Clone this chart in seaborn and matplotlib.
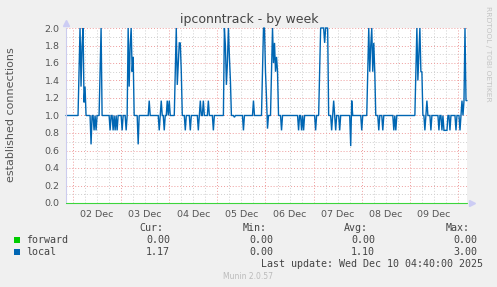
import numpy as np
import pandas as pd
import matplotlib
matplotlib.use("Agg")
import matplotlib.pyplot as plt
import matplotlib.dates as mdates
from matplotlib.ticker import MultipleLocator, FuncFormatter, NullFormatter
from matplotlib.patches import Rectangle
import seaborn as sns

# ---------------- data ----------------
end_time = "2025-12-10 04:30"
sample_step = "30min"
local_values = [
    1, 1, 1, 1, 1, 1, 1, 1, 1, 1, 1, 1, 1, 1.5, 2, 1.33, 1.8, 2, 1.15, 1.33,
    1, 1, 1, 1, 1, .67, 1, 1, .83, 1, .83, 1, 1, 1, 1.5, 2, 1, 1, 1, 1,
    1, 1, 1, 1, .83, 1, 1, .83, 1, .83, 1, .83, 1, 1, 1, 1, .83, 1, 1, 1,
    .83, 1, 2, 1.33, 1.8, 2, 1.5, 1.67, 1, 1, 1, 1, .67, 1, 1, 1, 1, 1, 1, 1,
    1, 1, 1, 1.17, 1, 1, 1, 1, 1, 1, 1, 1, 1, .83, 1, 1.17, 1, 1, .83, 1,
    1, 1.17, 1, 1.17, 1, 1, 1, 1, 1, 1.5, 2, 1.35, 1.6, 1.83, 1.83, 1.5, 1, 1, 1, .83,
    1, 1, 1, 1, .83, 1, 1, 1, 1, 1, 1, 1, .83, 1, 1.17, 1, 1, 1.17, 1, 1,
    1, 1, 1.17, 1, 1, 1, 1, .83, 1, 1, 1, 1, 1, 1, 1, 1, 1, 1, 2, 1.8,
    1.35, 1.6, 2, 1.67, 1.4, 1, 1, 1, .98, 1, 1, 1, 1, 1, 1, 1, 1, .83, 1, 1,
    1, 1, 1, 1, 1, 1, 1, 1.17, 1, 1, 1, 1, 1, 1, 1, 1, 1.5, 2, 2, 1.5,
    1.2, .85, 1, 1, 1, 1.5, 2, 1.6, 1.83, 1.5, 1.67, 1.5, 1, 1, 1, .83, 1, 1, 1, 1,
    1, 1, 1, 1, 1, 1, 1, 1, 1, 1, 1, 1, .83, 1, 1, .83, 1, .83, 1, 1,
    1, 1, 1, 1, 1, 1, 1, 1, 1, .83, 1, 1, 1, 1.5, 2, 2, 2, 2, 1.83, 2,
    2, 2, 1, 1, 1, .83, 1, 1.17, 1, .83, 1, 1, 1, .83, 1, 1, 1, 1, 1, 1,
    1, 1, 1, 1, .65, 1.17, 1, 1, 1, 1, 1, 1, 1, 1, 1, .83, 1, 1, 1, 1,
    1, 1.5, 2, 1.5, 1.8, 2, 1.5, 1.83, 1.5, 1, 1, 1, .83, 1, 1, 1, .83, 1, 1, 1,
    1, 1, 1, 1, 1, 1, 1, .83, 1, .83, 1, 1, 1, 1, 1, 1, 1, 1, 1, 1,
    1, 1, 1, 1, 1, 1, 1, 1, 1, 1.5, 2, 1.4, 1.7, 2, 1.5, 1.5, 1, 1, .83, 1,
    1.17, 1, 1, 1, .83, 1, 1, 1, 1, 1, 1, 1, .83, 1, 1, .83, 1, .83, .83, .83,
    .83, 1, 1, .83, 1, 1, 1, 1, 1, .83, 1, 1, 1, .83, 1, 1.17, 1, 1.17, 2, 1.17, 1.17,
]
forward_values = [0.0] * len(local_values)

series_names = ["forward", "local"]
series_colors = ["#00CC00", "#0066B3"]
cur_labels = ["0.00", "1.17"]
min_labels = ["0.00", "0.00"]
avg_labels = ["0.00", "1.10"]
max_labels = ["0.00", "3.00"]

title = "ipconntrack - by week"
y_label = "established connections"
last_update = "Last update: Wed Dec 10 04:40:00 2025"
y_min, y_max = 0.0, 2.0

# ---------------- build frame ----------------
times = pd.date_range(end=end_time, periods=len(local_values), freq=sample_step)
df = pd.concat([
    pd.DataFrame({"time": times, "value": forward_values, "series": "forward"}),
    pd.DataFrame({"time": times, "value": local_values, "series": "local"}),
], ignore_index=True)

# ---------------- figure ----------------
sns.set_style("white")
plt.rcParams["font.family"] = ["DejaVu Sans"]

W, H = 497, 287
fig = plt.figure(figsize=(W / 100, H / 100), dpi=100, facecolor="#F0F0F0")
L, R, T, B = 66, 467, 28, 203
ax = fig.add_axes([L / W, 1 - B / H, (R - L) / W, (B - T) / H])
ax.set_facecolor("white")

sns.lineplot(data=df, x="time", y="value", hue="series", hue_order=series_names,
             palette=dict(zip(series_names, series_colors)), linewidth=1.0,
             estimator=None, legend=False, ax=ax)
for ln in ax.lines:
    ln.set_clip_on(False)
    ln.set_solid_joinstyle("miter")
ax.lines[0].set_linewidth(0.8)
ax.lines[0].set_alpha(0.75)
ax.lines[0].set_zorder(3)

ax.set_xlim(times[0], times[-1])
ax.set_ylim(y_min, y_max)

# x axis: red day lines, grey 6-hour lines, labels at noon
ax.xaxis.set_major_locator(mdates.DayLocator())
ax.xaxis.set_major_formatter(NullFormatter())
ax.xaxis.set_minor_locator(mdates.HourLocator(byhour=[6, 12, 18]))
ax.xaxis.set_minor_formatter(FuncFormatter(
    lambda v, p: mdates.num2date(v).strftime("%d %b") if mdates.num2date(v).hour == 12 else ""))

ax.yaxis.set_major_locator(MultipleLocator(0.2))
ax.yaxis.set_minor_locator(MultipleLocator(0.1))
ax.yaxis.set_major_formatter(FuncFormatter(lambda v, p: f"{v:.1f}"))

ax.grid(which="major", color="#EE9C9C", linestyle=(0, (1, 2)), linewidth=0.7)
ax.grid(which="minor", color="#CFCFCF", linestyle=(0, (1, 2)), linewidth=0.7)
ax.set_axisbelow(True)

ax.tick_params(axis="x", which="major", length=2, width=0.7, color="#EE8888", pad=1)
ax.tick_params(axis="x", which="minor", length=2, width=0.7, color="#CCCCCC",
               labelsize=6.8, labelcolor="#555555", pad=3.2)
ax.tick_params(axis="y", which="major", length=2, width=0.7, color="#EE8888",
               labelsize=6.8, labelcolor="#555555", pad=2.5)
ax.tick_params(axis="y", which="minor", length=0)

ax.set_xlabel("")
ax.set_ylabel("")
for s in ["top", "right", "bottom"]:
    ax.spines[s].set_visible(False)
ax.spines["left"].set_color("#CCCCEE")
ax.spines["left"].set_linewidth(0.8)

# axis arrows
ax.plot([0], [1.03], marker="^", markersize=4, color="#CCCCF4", transform=ax.transAxes, clip_on=False)
ax.plot([1.012], [0], marker=">", markersize=4, color="#CCCCF4", transform=ax.transAxes, clip_on=False)

def fx(x):
    return x / W

def fy(y):
    return 1 - y / H

fig.text(fx(249), fy(19), title, ha="center", va="center", fontsize=9, color="#444444")
fig.text(fx(11), fy(115), y_label, ha="center", va="center", rotation=90, fontsize=8, color="#555555")
fig.text(fx(488), fy(54), "RRDTOOL / TOBI OETIKER", ha="center", va="center", rotation=270,
         fontsize=5.4, color="#C4C4C4")

# legend table
mono = dict(family="DejaVu Sans Mono", fontsize=7.2, color="#444444")
header_right = [163, 267, 368, 470]
value_right = [170, 273, 375, 477]
for txt, xr in zip(["Cur:", "Min:", "Avg:", "Max:"], header_right):
    fig.text(fx(xr), fy(231), txt, ha="right", va="baseline", **mono)

row_base = [242.7, 255]
row_box = [236.7, 249]
for i, name in enumerate(series_names):
    fig.patches.append(Rectangle((fx(14), fy(row_box[i] + 6)), 6 / W, 6 / H,
                                 transform=fig.transFigure, facecolor=series_colors[i],
                                 edgecolor="none"))
    fig.text(fx(26), fy(row_base[i]), name, ha="left", va="baseline", **mono)
    for vals, xr in zip([cur_labels, min_labels, avg_labels, max_labels], value_right):
        fig.text(fx(xr), fy(row_base[i]), vals[i], ha="right", va="baseline", **mono)

fig.text(fx(483), fy(266.7), last_update, ha="right", va="baseline", **mono)
fig.text(fx(248), fy(279), "Munin 2.0.57", ha="center", va="baseline", fontsize=5.5, color="#BBBBBB")

fig.savefig("out.png", dpi=100, facecolor=fig.get_facecolor())
